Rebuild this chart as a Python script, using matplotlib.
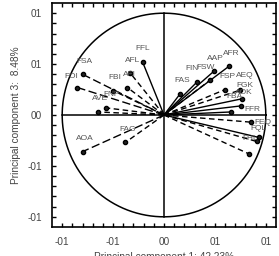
import matplotlib
matplotlib.use("Agg")
import matplotlib.pyplot as plt
import numpy as np

# ---- data ----
labels = ["FFL", "AFL", "AFI", "FBI", "FSA", "FOI", "FNP", "AVE", "AOA", "FAG",
          "AFR", "AAP", "FSW", "FIN", "FAS", "FSP", "AEQ", "FGK", "AOK", "FBA",
          "FFR", "FEQ", "FQL", "FHL"]
pc1 = [-0.21, -0.33, -0.36, -0.50, -0.80, -0.85, -0.57, -0.65, -0.80, -0.38,
       0.64, 0.49, 0.45, 0.32, 0.16, 0.60, 0.75, 0.77, 0.76, 0.66,
       0.85, 0.93, 0.91, 0.83]
pc3 = [0.52, 0.41, 0.27, 0.24, 0.40, 0.27, 0.07, 0.03, -0.36, -0.27,
       0.48, 0.43, 0.34, 0.32, 0.21, 0.25, 0.245, 0.16, 0.09, 0.03,
       -0.07, -0.22, -0.26, -0.38]
line_kind = ["solid", "dash", "dash", "dash", "long", "long", "dash", "dash", "long", "dash",
             "solid", "solid", "dash", "solid", "solid", "dash", "dash", "solid", "solid", "solid",
             "dash", "solid", "dash", "dash"]
tick_vals = [-1, -0.5, 0, 0.5, 1]
xtick_labels = ["-01", "-01", "00", "01", "01"]
ytick_labels = ["-01", "-01", "00", "01", "01"]
xlabel = "Principal component 1: 42.23%"
ylabel = "Principal component 3:  8.48%"

# label offsets (pixels) default and overrides
default_off = (2, 13)
off_over = {"FOI": (-6, 11), "FSW": (-4, 13), "FIN": (-5, 14), "FNP": (6, 13),
            "FFL": (0, 14), "AEQ": (4, 15), "FBA": (3, 15), "FEQ": (4, 15), "FHL": (2, 15)}

plt.rcParams['font.family'] = ['Liberation Sans', 'DejaVu Sans']

fig = plt.figure(figsize=(2.79, 2.56), dpi=100)
ax = fig.add_axes([52/279, 1 - 227/256, 224/279, 224/256])

styles = {"solid": "-", "dash": (0, (4, 2.5)), "long": (0, (6, 2.5))}
for lab, x, y, k in zip(labels, pc1, pc3, line_kind):
    ax.plot([0, x], [0, y], color='black', lw=1.0, linestyle=styles[k], zorder=2)
    ax.plot([x], [y], 'o', color='black', ms=3.0, mec='black', mfc='#222222', zorder=3)
    dx, dy = off_over.get(lab, default_off)
    ax.annotate(lab, (x, y), xytext=(dx * 0.72, dy * 0.72), textcoords='offset points',
                ha='center', va='center', fontsize=6.0, color='#555555', zorder=4)

t = np.linspace(0, 2 * np.pi, 400)
ax.plot(np.cos(t), np.sin(t), color='black', lw=1.1)
ax.plot([-1, 1], [0, 0], color='black', lw=1.1)
ax.plot([0, 0], [-1, 1], color='black', lw=1.1)

ax.set_xlim(-1.1, 1.1)
ax.set_ylim(-1.1, 1.1)
ax.set_xticks(tick_vals)
ax.set_xticklabels(xtick_labels)
ax.set_yticks(tick_vals)
ax.set_yticklabels(ytick_labels)
ax.set_xticks(np.arange(-1.0, 1.05, 0.1), minor=True)
ax.set_yticks(np.arange(-1.0, 1.05, 0.1), minor=True)
ax.tick_params(which='both', direction='in', top=True, right=True, length=3, width=1,
               labelsize=7.2, labelcolor='#444444', pad=7)
for s in ax.spines.values():
    s.set_linewidth(1.2)
ax.set_xlabel(xlabel, fontsize=7.3, color='#444444', labelpad=4)
ax.set_ylabel(ylabel, fontsize=7.3, color='#444444', labelpad=5)

fig.savefig("out.png", dpi=100)
